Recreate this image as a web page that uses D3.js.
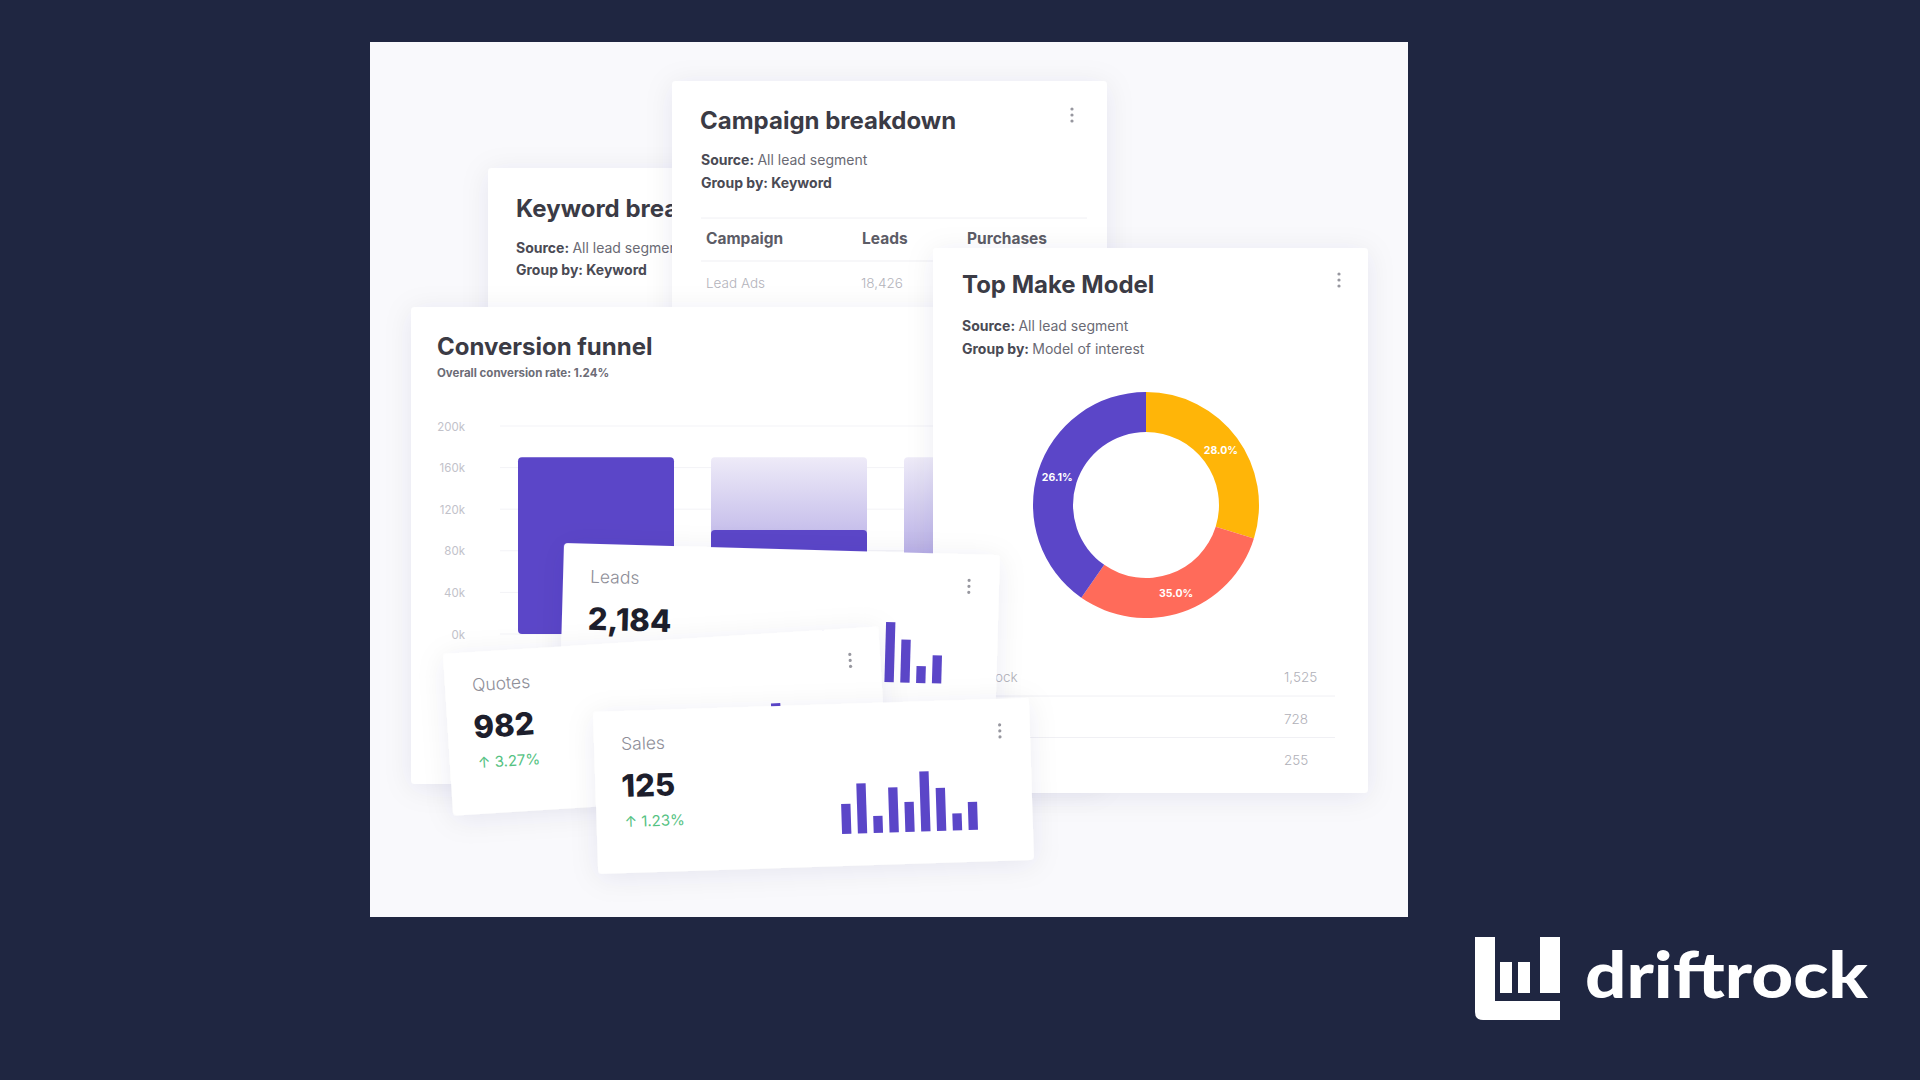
<!DOCTYPE html>
<html><head><meta charset="utf-8">
<script src="https://cdn.jsdelivr.net/npm/d3@7"></script>
<style>
html,body{margin:0;padding:0;background:#1f2641;overflow:hidden}
svg{display:block}
</style></head><body>
<svg id="c" width="1920" height="1080"></svg>
<script>
// ---------------- DATA ----------------
const funnelStages = ["Leads", "Quotes", "Sales"];
const funnelValues = [170000, 100000, null];           // third stage hidden in the picture
const funnelTicks = [0, 40000, 80000, 120000, 160000, 200000];
const funnelTickLabels = ["0k", "40k", "80k", "120k", "160k", "200k"];
const conversionRate = "1.24%";

const campaignColumns = ["Campaign", "Leads", "Purchases"];
const campaignRowNames = ["Lead Ads"];
const campaignRowLeads = [18426];

const donutShares = [29.8, 29.9, 40.3];                 // slice sizes
const donutLabels = ["28.0%", "35.0%", "26.1%"];
const donutColors = ["#ffb508", "#ff6b5a", "#5b46c8"];

const modelRowNames = ["ock", "", ""];
const modelRowValues = [1525, 728, 255];

const kpiLabels = ["Leads", "Quotes", "Sales"];
const kpiValues = [2184, 982, 125];
const kpiDeltas = [null, 3.27, 1.23];
const sparkValues = [30, 50, 17, 45, 30, 60, 43, 17, 28];

// ---------------- SETUP ----------------
const FONT = "Inter, 'Open Sans', 'Noto Sans', sans-serif";
const svg = d3.select("#c");
const defs = svg.append("defs");
const flt = defs.append("filter").attr("id", "sh")
  .attr("x", "-20%").attr("y", "-20%").attr("width", "140%").attr("height", "150%");
flt.append("feDropShadow").attr("dx", 0).attr("dy", 4).attr("stdDeviation", 14)
  .attr("flood-color", "#22225a").attr("flood-opacity", 0.08);
const grad = defs.append("linearGradient").attr("id", "lightBar")
  .attr("x1", 0).attr("y1", 0).attr("x2", 0).attr("y2", 1);
grad.append("stop").attr("offset", "0%").attr("stop-color", "#eeebf8");
grad.append("stop").attr("offset", "55%").attr("stop-color", "#bab1e7");
grad.append("stop").attr("offset", "100%").attr("stop-color", "#9d90dc");

function text(g, x, y, s, size, weight, fill, anchor) {
  return g.append("text").attr("x", x).attr("y", y).text(s)
    .attr("font-family", FONT).attr("font-size", size).attr("font-weight", weight)
    .attr("fill", fill).attr("text-anchor", anchor || "start");
}
function labelLine(g, x, y, key, val, allBold) {
  const t = g.append("text").attr("x", x).attr("y", y)
    .attr("font-family", FONT).attr("font-size", 14).attr("fill", "#4a4a54");
  t.append("tspan").attr("font-weight", 700).text(key + ": ");
  t.append("tspan").attr("font-weight", allBold ? 700 : 400).attr("fill", allBold ? "#4a4a54" : "#6a6a74").text(val);
}
function kebab(g, x, y) {
  g.selectAll(null).data([0, 1, 2]).join("circle")
    .attr("cx", x).attr("cy", d => y + d * 6).attr("r", 1.6).attr("fill", "#97979f");
}
function card(g, x, y, w, h) {
  return g.append("rect").attr("x", x).attr("y", y).attr("width", w).attr("height", h)
    .attr("rx", 4).attr("fill", "#ffffff").attr("filter", "url(#sh)");
}
const TITLE = 24;

// background + panel
svg.append("rect").attr("width", 1920).attr("height", 1080).attr("fill", "#1f2641");
svg.append("rect").attr("x", 370).attr("y", 42).attr("width", 1038).attr("height", 875).attr("fill", "#f9f9fc");

// ---------------- Keyword card ----------------
const kw = svg.append("g");
card(kw, 488, 168, 300, 220);
text(kw, 516, 217, "Keyword breakdown", TITLE, 700, "#3b3b45");
labelLine(kw, 516, 253, "Source", "All lead segment");
labelLine(kw, 516, 275, "Group by", "Keyword", true);

// ---------------- Campaign card ----------------
const cb = svg.append("g");
card(cb, 672, 81, 435, 290);
text(cb, 700, 129, "Campaign breakdown", TITLE, 700, "#3b3b45");
labelLine(cb, 701, 165, "Source", "All lead segment");
labelLine(cb, 701, 188, "Group by", "Keyword", true);
kebab(cb, 1072, 109);
cb.append("line").attr("x1", 701).attr("x2", 1087).attr("y1", 218).attr("y2", 218).attr("stroke", "#f0f0f4");
const colX = d3.scaleOrdinal().domain(campaignColumns).range([706, 862, 967]);
cb.selectAll(null).data(campaignColumns).join("text")
  .attr("x", d => colX(d)).attr("y", 244).text(d => d)
  .attr("font-family", FONT).attr("font-size", 15.5).attr("font-weight", 700).attr("fill", "#5c5c66");
cb.append("line").attr("x1", 701).attr("x2", 1087).attr("y1", 261).attr("y2", 261).attr("stroke", "#efeff3");
campaignRowNames.forEach((n, i) => {
  text(cb, colX("Campaign"), 288 + i * 40, n, 13.5, 300, "#b3b3bb");
  text(cb, colX("Leads") - 1, 288 + i * 40, d3.format(",")(campaignRowLeads[i]), 13.5, 300, "#b3b3bb");
});

// ---------------- Conversion funnel card ----------------
const cf = svg.append("g");
card(cf, 411, 307, 690, 477);
text(cf, 437, 355, "Conversion funnel", TITLE, 700, "#3b3b45");
text(cf, 437, 377, "Overall conversion rate: " + conversionRate, 11.5, 700, "#6c6c76");
const fx = d3.scaleBand().domain(funnelStages).range([518, 1060]).paddingInner(37 / 193).paddingOuter(0);
const fy = d3.scaleLinear().domain([0, 200000]).range([634, 426]);
cf.selectAll(null).data(funnelTicks).join("line")
  .attr("x1", 500).attr("x2", 1080).attr("y1", d => fy(d)).attr("y2", d => fy(d))
  .attr("stroke", "#f3f3f7");
const yAxis = d3.axisLeft(fy).tickValues(funnelTicks)
  .tickFormat((d, i) => funnelTickLabels[i]).tickSize(0).tickPadding(0);
const ya = cf.append("g").attr("transform", "translate(465,0)").call(yAxis);
ya.select(".domain").remove();
ya.selectAll("text").attr("font-family", FONT).attr("font-size", 11.5).attr("fill", "#c2c2ca").attr("dy", "0.35em");
// background (previous-stage) bars
cf.selectAll(null).data(funnelStages.slice(1)).join("rect")
  .attr("x", d => fx(d)).attr("width", fx.bandwidth())
  .attr("y", fy(funnelValues[0])).attr("height", fy(0) - fy(funnelValues[0]))
  .attr("rx", 4).attr("fill", "url(#lightBar)");
cf.selectAll(null).data(funnelStages.map((s, i) => ({ s, v: funnelValues[i] })).filter(d => d.v != null))
  .join("rect")
  .attr("x", d => fx(d.s)).attr("width", fx.bandwidth())
  .attr("y", d => fy(d.v)).attr("height", d => fy(0) - fy(d.v))
  .attr("rx", 4).attr("fill", "#5b46c8");

// ---------------- Top Make Model card ----------------
const tm = svg.append("g");
card(tm, 933, 248, 435, 545);
text(tm, 962, 293, "Top Make Model", TITLE, 700, "#3b3b45");
labelLine(tm, 962, 331, "Source", "All lead segment");
labelLine(tm, 962, 354, "Group by", "Model of interest");
kebab(tm, 1339, 274);
const pie = d3.pie().sort(null).value(d => d)(donutShares);
const arc = d3.arc().innerRadius(73).outerRadius(113);
const labArc = d3.arc().innerRadius(93).outerRadius(93);
const dg = tm.append("g").attr("transform", "translate(1146,505)");
dg.selectAll(null).data(pie).join("path").attr("d", arc).attr("fill", (d, i) => donutColors[i]);
dg.selectAll(null).data(pie).join("text")
  .attr("transform", d => `translate(${labArc.centroid(d)})`)
  .attr("text-anchor", "middle").attr("dy", "0.35em")
  .attr("font-family", FONT).attr("font-size", 10.5).attr("font-weight", 700).attr("fill", "#ffffff")
  .text((d, i) => donutLabels[i]);
const rowY = d3.scaleLinear().domain([0, 1]).range([682, 723.5]);
tm.selectAll(null).data(modelRowValues).join("text")
  .attr("x", 1284).attr("y", (d, i) => rowY(i)).text(d => d3.format(",")(d))
  .attr("font-family", FONT).attr("font-size", 13.5).attr("font-weight", 300).attr("fill", "#b0b0b8");
tm.selectAll(null).data(modelRowNames).join("text")
  .attr("x", 995).attr("y", (d, i) => rowY(i)).text(d => d)
  .attr("font-family", FONT).attr("font-size", 13.5).attr("font-weight", 300).attr("fill", "#b0b0b8");
tm.selectAll(null).data([0, 1]).join("line")
  .attr("x1", 962).attr("x2", 1335).attr("y1", d => rowY(d) + 14).attr("y2", d => rowY(d) + 14)
  .attr("stroke", "#f0f0f4");

// ---------------- KPI cards ----------------
const sx = d3.scaleBand().domain(d3.range(sparkValues.length)).range([245, 381]).paddingInner(0.41).paddingOuter(0);
const sy = d3.scaleLinear().domain([0, 60]).range([130, 70]);
const kpiPlacement = [
  { x: 564, y: 543, r: 1.6 },
  { x: 443, y: 654, r: -3.6 },
  { x: 593, y: 712, r: -1.85 }
];
kpiLabels.forEach((lab, i) => {
  const p = kpiPlacement[i];
  const g = svg.append("g").attr("transform", `translate(${p.x},${p.y}) rotate(${p.r})`);
  card(g, 0, 0, 436, 162);
  text(g, 27, 39, lab, 17.5, 300, "#8e8e98");
  text(g, 26, 86, d3.format(",")(kpiValues[i]), 31, 800, "#1d1e2c");
  if (kpiDeltas[i] != null) text(g, 28, 116, "↑ " + kpiDeltas[i].toFixed(2) + "%", 15, 400, "#54c282");
  kebab(g, 406, 26);
  g.selectAll(null).data(sparkValues).join("rect")
    .attr("x", (d, j) => sx(j)).attr("width", sx.bandwidth())
    .attr("y", d => sy(d)).attr("height", d => sy(0) - sy(d))
    .attr("fill", "#5b46c8");
});

// ---------------- Logo ----------------
const lg = svg.append("g");
lg.append("path").attr("fill", "#ffffff")
  .attr("d", "M1475,937 h20 v64 h65 v19 h-77 q-8,0 -8,-8 z");
lg.append("rect").attr("x", 1500).attr("y", 962).attr("width", 12).attr("height", 31).attr("fill", "#fff");
lg.append("rect").attr("x", 1518).attr("y", 962).attr("width", 12).attr("height", 31).attr("fill", "#fff");
lg.append("rect").attr("x", 1540).attr("y", 937).attr("width", 20).attr("height", 56).attr("fill", "#fff");
lg.append("text").attr("x", 1585).attr("y", 998).text("driftrock")
  .attr("font-family", "Lato, 'Open Sans', sans-serif").attr("font-size", 64).attr("font-weight", 900)
  .attr("fill", "#ffffff").attr("textLength", 283).attr("lengthAdjust", "spacingAndGlyphs");
</script>
</body></html>
